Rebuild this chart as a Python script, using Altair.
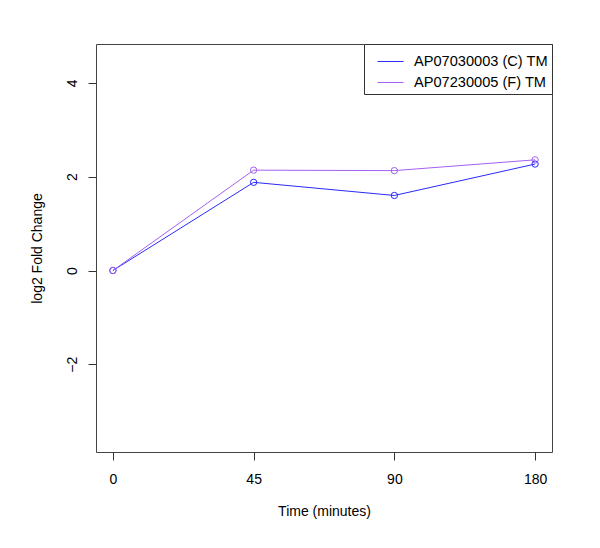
import altair as alt
import pandas as pd

times = ["0", "45", "90", "180"]
series_names = ["AP07030003 (C) TM", "AP07230005 (F) TM"]
values_c = [0.0, 1.88, 1.60, 2.27]
values_f = [0.0, 2.14, 2.13, 2.36]
colors = ["#2a2aff", "#a461f0"]

rows = []
for name, vals in zip(series_names, [values_c, values_f]):
    for t, v in zip(times, vals):
        rows.append({"time": t, "value": v, "series": name})
df = pd.DataFrame(rows)

FONT = "Liberation Sans"

x_enc = alt.X(
    "time:O", sort=times,
    scale=alt.Scale(type="point", padding=0.12),
    axis=alt.Axis(
        title="Time (minutes)", labelAngle=0, tickSize=8, tickColor="#333333",
        domain=False, grid=False, labelPadding=23, labelBaseline="alphabetic",
        labelFont=FONT, labelFontSize=14, labelColor="#000000",
        titleFont=FONT, titleFontSize=14, titleFontWeight="normal", titleColor="#000000",
        titleY=63, titleBaseline="alphabetic",
    ),
)
y_enc = alt.Y(
    "value:Q",
    scale=alt.Scale(domain=[-3.87, 4.83], nice=False, zero=False),
    axis=alt.Axis(
        title="log2 Fold Change", values=[-2, 0, 2, 4], tickSize=8, tickColor="#333333",
        domain=False, grid=False, labelAngle=270, labelAlign="center",
        labelBaseline="alphabetic", labelPadding=12,
        labelFont=FONT, labelFontSize=14, labelColor="#000000",
        titleFont=FONT, titleFontSize=14, titleFontWeight="normal", titleColor="#000000",
        titleX=-55, titleBaseline="alphabetic", titleAngle=270,
    ),
)
color_scale = alt.Scale(domain=series_names, range=colors)

lines = alt.Chart(df).mark_line(strokeWidth=1).encode(
    x=x_enc, y=y_enc,
    color=alt.Color("series:N", scale=color_scale, sort=series_names,
                    legend=alt.Legend(title=None, orient="top-right", offset=0,
                                      symbolType="stroke", symbolSize=676,
                                      symbolStrokeWidth=1, labelOffset=10,
                                      symbolOffset=9, padding=4, rowPadding=-9.3,
                                      strokeColor="#333333", fillColor="#ffffff",
                                      labelFont=FONT, labelFontSize=14.6,
                                      labelColor="#000000", cornerRadius=0)),
)
points = alt.Chart(df).mark_point(shape="circle", filled=False, size=40, strokeWidth=1, opacity=1).encode(
    x=x_enc, y=y_enc,
    color=alt.Color("series:N", scale=color_scale, sort=series_names, legend=None),
)

chart = alt.layer(lines, points).properties(
    width=456, height=408,
    background="#ffffff",
    autosize=alt.AutoSizeParams(type="none"),
    padding={"left": 88, "top": 36, "right": 40, "bottom": 88},
).configure_view(stroke="#444444", strokeWidth=1)

chart.save("out.html", embed_options={"renderer": "svg", "actions": False})
